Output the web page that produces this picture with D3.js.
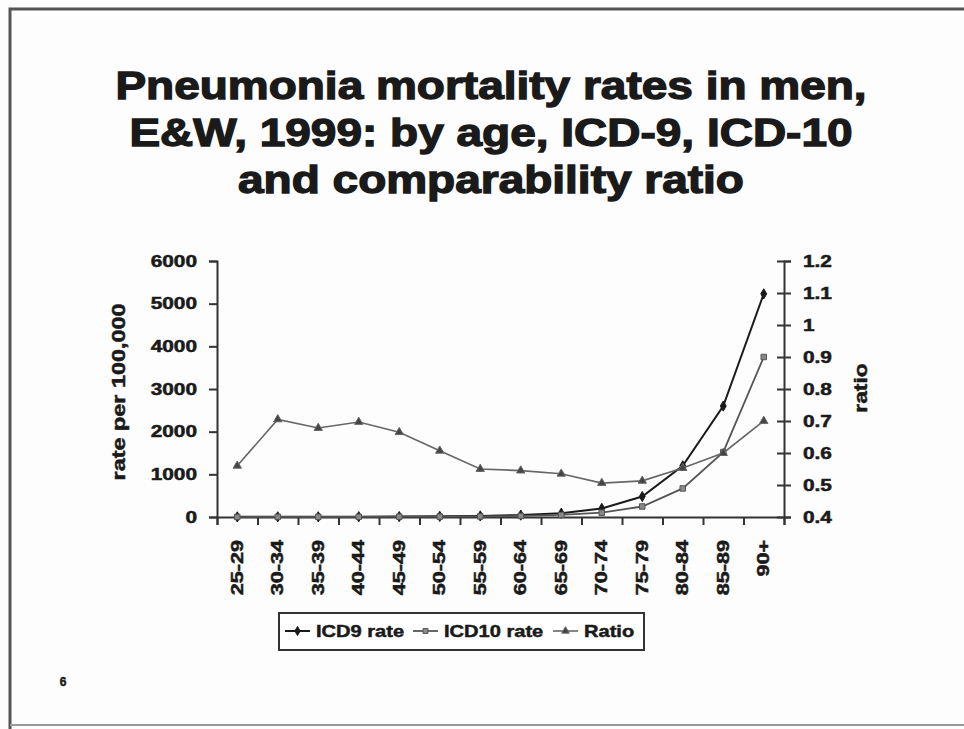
<!DOCTYPE html>
<html>
<head>
<meta charset="utf-8">
<script src="https://cdn.jsdelivr.net/npm/d3@7"></script>
<style>
  html, body { margin: 0; padding: 0; background: #fdfdfd; }
  svg { display: block; }
  text { font-family: "Liberation Sans", Arial, sans-serif; font-weight: bold; fill: #1a1a1a;
         stroke: #1a1a1a; stroke-width: 0.5px; }
  text.title { stroke-width: 1.3px; }
</style>
</head>
<body>
<svg id="chart" width="964" height="729"></svg>
<script>
// Age bands (men, England & Wales, 1999)
const ageGroups = ["25-29","30-34","35-39","40-44","45-49","50-54","55-59","60-64","65-69","70-74","75-79","80-84","85-89","90+"];
// Pneumonia mortality per 100,000
const icd9Rate  = [3, 4, 5, 7, 10, 15, 25, 45, 90, 200, 480, 1200, 2600, 5230];
const icd10Rate = [1.7, 2.8, 3.4, 4.9, 6.7, 9.1, 14, 25, 48, 101, 246, 670, 1520, 3750];
// Comparability ratio ICD-10 / ICD-9
const ratio     = [0.56, 0.705, 0.678, 0.697, 0.665, 0.607, 0.55, 0.545, 0.535, 0.506, 0.513, 0.553, 0.60, 0.70];
const rateTicks  = [0, 1000, 2000, 3000, 4000, 5000, 6000];
const ratioTicks = [0.4, 0.5, 0.6, 0.7, 0.8, 0.9, 1.0, 1.1, 1.2];
const titleLines = ["Pneumonia mortality rates in men,", "E&W, 1999: by age, ICD-9, ICD-10", "and comparability ratio"];
const seriesNames = ["ICD9 rate", "ICD10 rate", "Ratio"];

const svg = d3.select("#chart");

// widen glyphs horizontally in place (bold slide lettering is broad)
function widen(sel, k) {
  sel.each(function () {
    const len = this.getComputedTextLength();
    d3.select(this).attr("textLength", len * k).attr("lengthAdjust", "spacingAndGlyphs");
  });
}

// slide frame
svg.append("path")
  .attr("d", "M10,729 L10,9 L964,9")
  .attr("fill", "none").attr("stroke", "#555").attr("stroke-width", 3);
svg.append("line").attr("x1", 10).attr("x2", 964).attr("y1", 725).attr("y2", 725)
  .attr("stroke", "#999").attr("stroke-width", 2);

// title
const title = svg.append("g").selectAll("text").data(titleLines).join("text")
  .attr("class", "title")
  .attr("x", 491).attr("y", (d, i) => 99 + i * 47)
  .attr("text-anchor", "middle")
  .style("font-size", "38px")
  .text(d => d);
widen(title, 1.21);

// plot area
const plotLeft = 217, plotRight = 784, plotTop = 261, plotBottom = 517;

const x = d3.scaleBand().domain(ageGroups).range([plotLeft, plotRight]).padding(0);
const cx = d => x(d) + x.bandwidth() / 2;
const yRate = d3.scaleLinear().domain([0, 6000]).range([plotBottom, plotTop]);
const yRatio = d3.scaleLinear().domain([0.4, 1.2]).range([plotBottom, plotTop]);

// left axis
const gL = svg.append("g").attr("transform", `translate(${plotLeft},0)`)
  .call(d3.axisLeft(yRate).tickValues(rateTicks).tickSize(8).tickPadding(12).tickFormat(d3.format("d")));
gL.select(".domain").attr("stroke", "#333").attr("stroke-width", 2);
gL.selectAll(".tick line").attr("stroke", "#333").attr("stroke-width", 2);
gL.selectAll("text").style("font-size", "16px").attr("fill", "#1a1a1a");
widen(gL.selectAll("text"), 1.3);

// right axis (ticks cross the axis line)
const gR = svg.append("g").attr("transform", `translate(${plotRight},0)`)
  .call(d3.axisRight(yRatio).tickValues(ratioTicks).tickSize(7).tickPadding(12)
    .tickFormat(d => String(+d.toFixed(1))));
gR.select(".domain").attr("stroke", "#333").attr("stroke-width", 2);
gR.selectAll(".tick line").attr("x1", -7).attr("stroke", "#333").attr("stroke-width", 2);
gR.selectAll("text").style("font-size", "16px").attr("fill", "#1a1a1a");
widen(gR.selectAll("text"), 1.3);

// category axis: boundary ticks
const xEdge = d3.scaleLinear().domain([0, ageGroups.length]).range([plotLeft, plotRight]);
const gX = svg.append("g").attr("transform", `translate(0,${plotBottom})`)
  .call(d3.axisBottom(xEdge).tickValues(d3.range(ageGroups.length + 1)).tickSize(8).tickFormat(""));
gX.select(".domain").attr("stroke", "#333").attr("stroke-width", 2);
gX.selectAll(".tick line").attr("stroke", "#333").attr("stroke-width", 2);

// category labels, rotated
const gXL = svg.append("g").attr("transform", `translate(0,${plotBottom})`)
  .call(d3.axisBottom(x).tickSize(0).tickPadding(0));
gXL.select(".domain").remove();
gXL.selectAll("text")
  .attr("transform", "rotate(-90)")
  .attr("x", -23).attr("y", 0).attr("dy", "0.35em")
  .style("text-anchor", "end").style("font-size", "16px").attr("fill", "#1a1a1a");
widen(gXL.selectAll("text"), 1.35);

// axis titles
const yt = svg.append("text")
  .attr("transform", `translate(125,${(plotTop + plotBottom) / 2 + 3}) rotate(-90)`)
  .attr("text-anchor", "middle").style("font-size", "18px").text("rate per 100,000");
widen(yt, 1.3);
const rt = svg.append("text")
  .attr("transform", `translate(867,${(plotTop + plotBottom) / 2 - 1}) rotate(-90)`)
  .attr("text-anchor", "middle").style("font-size", "19px").text("ratio");
widen(rt, 1.2);

// series
const series = [
  { name: seriesNames[0], values: icd9Rate,  y: yRate,  color: "#1a1a1a", marker: d3.symbolDiamond, fill: "#1a1a1a", width: 2 },
  { name: seriesNames[1], values: icd10Rate, y: yRate,  color: "#555",    marker: d3.symbolSquare,  fill: "#888",    width: 1.8 },
  { name: seriesNames[2], values: ratio,     y: yRatio, color: "#666",    marker: d3.symbolTriangle, fill: "#444",   width: 1.6 }
];

const plot = svg.append("g");
series.forEach(s => {
  const pts = ageGroups.map((g, i) => [cx(g), s.y(s.values[i])]);
  plot.append("path").attr("d", d3.line()(pts))
    .attr("fill", "none").attr("stroke", s.color).attr("stroke-width", s.width);
  plot.selectAll(null).data(pts).join("path")
    .attr("transform", d => `translate(${d[0]},${d[1]})`)
    .attr("d", d3.symbol().type(s.marker).size(30))
    .attr("fill", s.fill).attr("stroke", s.color).attr("stroke-width", 1);
});

// legend
const lg = svg.append("g");
lg.append("rect").attr("x", 279).attr("y", 613).attr("width", 365).attr("height", 37)
  .attr("fill", "#fff").attr("stroke", "#333").attr("stroke-width", 2);
const legendX = [285, 413, 553];
series.forEach((s, i) => {
  const x0 = legendX[i];
  lg.append("line").attr("x1", x0).attr("x2", x0 + 25).attr("y1", 631).attr("y2", 631)
    .attr("stroke", s.color).attr("stroke-width", s.width);
  lg.append("path").attr("transform", `translate(${x0 + 12.5},631)`)
    .attr("d", d3.symbol().type(s.marker).size(24)).attr("fill", s.fill).attr("stroke", s.color);
  const t = lg.append("text").attr("x", x0 + 31).attr("y", 637).style("font-size", "17px").text(s.name);
  widen(t, 1.18);
});

// page number
svg.append("text").attr("x", 63).attr("y", 686).attr("text-anchor", "middle")
  .style("font-size", "12px").text("6");
</script>
</body>
</html>
